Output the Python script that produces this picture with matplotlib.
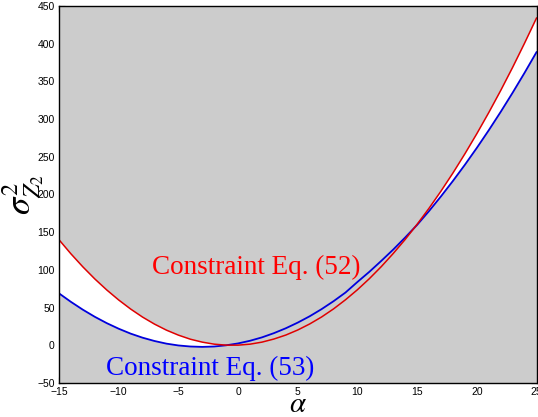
import numpy as np
import matplotlib
matplotlib.use("Agg")
import matplotlib.pyplot as plt

plt.rcParams['font.family'] = ['Liberation Sans', 'DejaVu Sans']
plt.rcParams['mathtext.fontset'] = 'stix'

# alpha values (x axis)
alpha = list(range(-15, 26))

# Constraint Eq. (52)
eq52 = [140.0, 121.3, 104.0, 88.0, 73.4, 60.1, 48.1, 37.4, 28.1, 20.1,
        13.5, 8.1, 4.2, 1.5, 0.2, 0.2, 1.5, 4.2, 8.3, 13.6,
        20.3, 28.3, 37.6, 48.3, 60.4, 73.7, 88.4, 104.4, 121.8, 140.4,
        160.5, 181.8, 204.5, 228.5, 253.9, 280.6, 308.6, 337.9, 368.6, 400.7,
        434.0]

# Constraint Eq. (53)
eq53 = [68.9, 57.6, 47.2, 37.8, 29.4, 22.0, 15.5, 10.1, 5.7, 2.2,
        -0.2, -1.6, -2.1, -1.6, 0.0, 2.5, 6.0, 10.5, 16.1, 22.6,
        30.1, 38.5, 48.0, 58.5, 70.0, 84.0, 97.5, 112.0, 127.0, 143.0,
        159.7, 178.1, 197.6, 218.0, 239.4, 261.8, 285.2, 309.6, 335.0, 361.4,
        388.8]

XLIM = (-15, 25)
YLIM = (-50, 450)
GRAY = '#cccccc'

x = np.array(alpha)
red = np.array(eq52)
blue = np.array(eq53)

fig = plt.figure(figsize=(5.38, 4.17), dpi=100)
ax = fig.add_axes([59 / 538, 1 - 383 / 417, (536.5 - 59) / 538, (383 - 6) / 417])

# gray everywhere, white where eq52 lies above eq53
ax.fill_between(x, YLIM[0], YLIM[1], color=GRAY, lw=0, zorder=1)
ax.fill_between(x, blue, red, where=red >= blue, interpolate=True,
                color='white', lw=0, zorder=1.5)
ax.plot(x, red, color='#e00000', lw=1.1, zorder=3)
ax.plot(x, blue, color='#0000dd', lw=1.3, zorder=2)

ax.text(-7.2, 103, 'Constraint Eq. (52)', color='red', fontsize=19.5,
        family='Liberation Serif', va='center', ha='left', zorder=4)
ax.text(-11.1, -31, 'Constraint Eq. (53)', color='blue', fontsize=19.5,
        family='Liberation Serif', va='center', ha='left', zorder=4)

ax.set_xlim(*XLIM)
ax.set_ylim(*YLIM)
ax.set_xticks(range(-15, 26, 5))
ax.set_yticks(range(-50, 451, 50))
ax.set_axisbelow(True)
ax.tick_params(direction='in', top=True, right=True, labelsize=7.5,
               length=4, width=0.8, pad=3, colors='black')
for sp in ax.spines.values():
    sp.set_linewidth(1.0)
    sp.set_zorder(5)

ax.set_xlabel(r'$\alpha$', fontsize=21, labelpad=-5)
ax.set_ylabel(r'$\sigma^2_{Z_2}$', fontsize=25)
ax.yaxis.set_label_coords(-0.028, 0.5)

fig.savefig('out.png', dpi=100)
